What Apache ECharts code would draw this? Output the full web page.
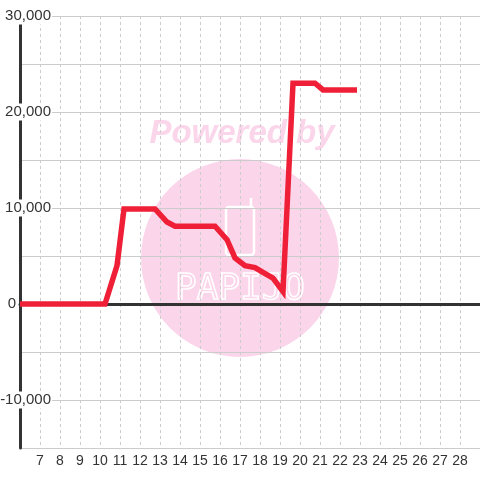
<!DOCTYPE html>
<html>
<head>
<meta charset="utf-8">
<script src="https://cdn.jsdelivr.net/npm/echarts@6/dist/echarts.min.js"></script>
<style>
    html,body{margin:0;padding:0;background:#fff}
    #chart{width:480px;height:480px}
</style>
</head>
<body>
<div id="chart"></div>
<script>
// points (x = day, y = value)
let xValues = [6, 10.25, 10.85, 11.2, 12.75, 13.35, 13.75, 15.75, 16.35, 16.75, 17.25, 17.75, 18.15, 18.65, 19.15, 19.65, 20.75, 21.15, 22.85]
let yValues = [0, 0, 4000, 9900, 9900, 8540, 8100, 8100, 6700, 4800, 4000, 3800, 3300, 2700, 1300, 23000, 23000, 22300, 22300]
let xTicks = [7, 8, 9, 10, 11, 12, 13, 14, 15, 16, 17, 18, 19, 20, 21, 22, 23, 24, 25, 26, 27, 28]
let yTicks = [-10000, 0, 10000, 20000, 30000]

let myChart = echarts.init(document.getElementById('chart'))

let pink = '#fbd6eb'
let lineData = xValues.map(function (v, i) {
    return [v, yValues[i]]
})

let option = {
    animation: false,
    textStyle: {fontFamily: 'Liberation Sans'},
    grid: {left: 20, right: 0, top: 16, bottom: 32, outerBoundsMode: 'none', containLabel: false},
    graphic: [
        {type: 'circle', z: -10, shape: {cx: 240, cy: 258, r: 99}, style: {fill: pink}},
        {type: 'text', z: -10, x: 242, y: 134, style: {
            text: 'Powered by', fill: pink, font: 'italic 900 33px Liberation Sans',
            align: 'center', verticalAlign: 'middle'
        }},
        {type: 'rect', z: -9, shape: {x: 226, y: 207, width: 28, height: 48, r: 3},
            style: {fill: 'none', stroke: '#fff', lineWidth: 2.5}},
        {type: 'line', z: -9, shape: {x1: 251, y1: 207, x2: 251, y2: 198},
            style: {stroke: '#fff', lineWidth: 2.5}},
        {type: 'text', z: -9, x: 240, y: 290, style: {
            text: 'PAPIJO', fill: 'none', stroke: '#fff', lineWidth: 1.5,
            font: '36px DejaVu Sans Mono', align: 'center', verticalAlign: 'middle'
        }}
    ],
    xAxis: [
        {
            type: 'value', min: 6, max: 29, interval: 1, position: 'bottom',
            axisLine: {show: false, onZero: false},
            axisTick: {show: false},
            axisLabel: {
                color: '#333', fontSize: 14, margin: 6,
                formatter: function (v) {
                    return xTicks.indexOf(v) >= 0 ? String(v) : ''
                }
            },
            splitLine: {show: true, lineStyle: {color: '#ccc', type: [3, 3], width: 1}}
        },
        {
            type: 'value', min: 6, max: 29, interval: 1, position: 'bottom',
            axisLine: {show: true, onZero: true, lineStyle: {color: '#333', width: 3}},
            axisTick: {show: false},
            axisLabel: {show: false},
            splitLine: {show: false}
        }
    ],
    yAxis: {
        type: 'value', min: -15000, max: 30000, interval: 5000,
        axisLine: {show: true, onZero: false, lineStyle: {color: '#333', width: 3}},
        axisTick: {show: false},
        axisLabel: {
            color: '#333', fontSize: 15, margin: -32,
            formatter: function (v) {
                if (yTicks.indexOf(v) < 0) return ''
                if (v === 0) return '{z|0}'
                return '{n|' + v.toLocaleString('en-US') + '}'
            },
            rich: {
                n: {fontSize: 15, color: '#333', backgroundColor: '#fff', padding: [1, 1]},
                z: {fontSize: 15, color: '#333', padding: [0, 36, 0, 0]}
            }
        },
        splitLine: {show: true, lineStyle: {color: '#ccc', width: 1}}
    },
    series: [{
        type: 'line',
        data: lineData,
        showSymbol: false,
        symbol: 'none',
        lineStyle: {color: '#ee1f36', width: 5.5, join: 'miter'},
        z: 5
    }]
}

myChart.setOption(option)
</script>
</body>
</html>
